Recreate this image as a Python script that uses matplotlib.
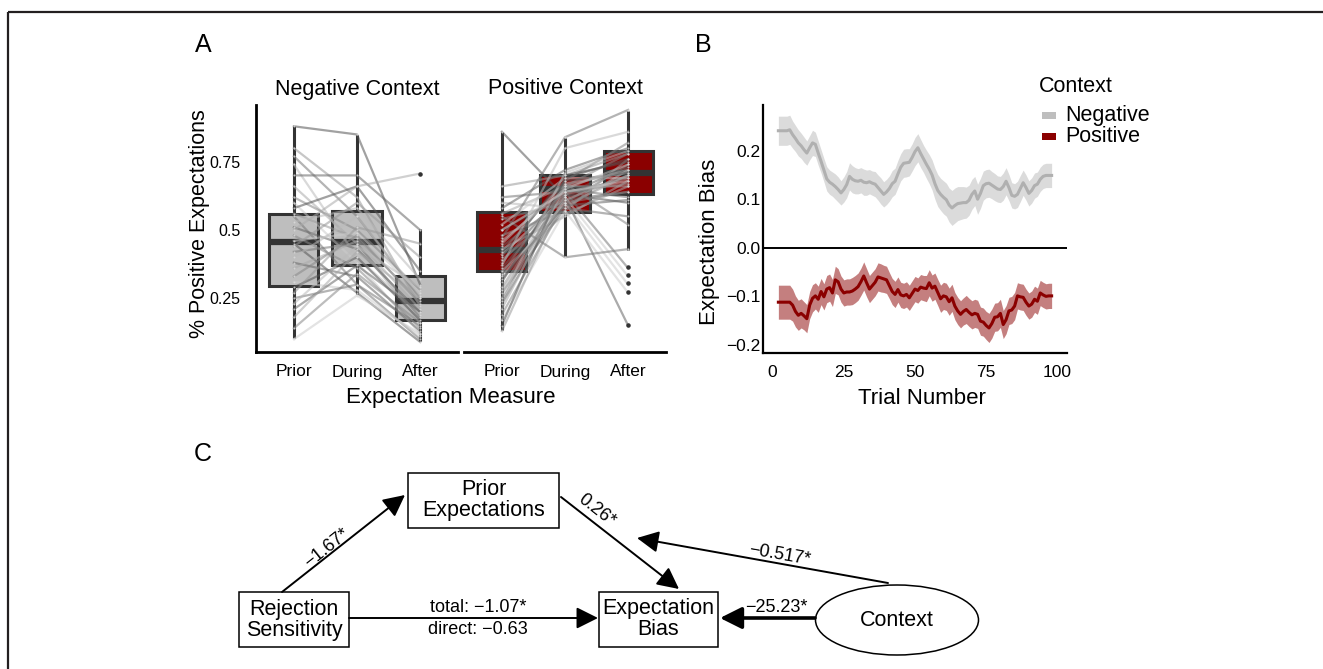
import matplotlib.pyplot as plt
from matplotlib.patches import Rectangle, Ellipse
import numpy as np

plt.rcParams['font.family'] = ['Liberation Sans', 'DejaVu Sans']

# ---- panel A data: box stats (q1, median, q3, whisker lo, whisker hi)
measures = ['Prior', 'During', 'After']
neg_q1 = [0.295, 0.370, 0.170]
neg_med = [0.455, 0.455, 0.241]
neg_q3 = [0.559, 0.569, 0.331]
neg_lo = [0.103, 0.264, 0.094]
neg_hi = [0.881, 0.847, 0.502]
neg_out = [[], [], [0.707]]
pos_q1 = [0.351, 0.567, 0.632]
pos_med = [0.427, 0.650, 0.710]
pos_q3 = [0.567, 0.700, 0.790]
pos_lo = [0.134, 0.405, 0.427]
pos_hi = [0.858, 0.838, 0.937]
pos_out = [[], [], [0.363, 0.335, 0.305, 0.274, 0.152]]

# individual participants (prior, during, after)
neg_prior = [0.88, 0.80, 0.77, 0.74, 0.70, 0.66, 0.62, 0.60, 0.58, 0.56, 0.55, 0.53, 0.51, 0.50, 0.48, 0.46,
             0.45, 0.44, 0.42, 0.40, 0.38, 0.36, 0.33, 0.31, 0.29, 0.27, 0.25, 0.23, 0.21, 0.18, 0.14, 0.10]
neg_during = [0.85, 0.62, 0.55, 0.40, 0.70, 0.45, 0.50, 0.38, 0.66, 0.47, 0.30, 0.58, 0.43, 0.66, 0.36, 0.49,
              0.27, 0.60, 0.45, 0.55, 0.33, 0.46, 0.48, 0.28, 0.40, 0.51, 0.30, 0.44, 0.37, 0.42, 0.34, 0.26]
neg_after = [0.30, 0.22, 0.25, 0.19, 0.50, 0.16, 0.28, 0.12, 0.35, 0.24, 0.10, 0.32, 0.20, 0.707, 0.14, 0.27,
             0.09, 0.40, 0.18, 0.26, 0.13, 0.21, 0.23, 0.11, 0.17, 0.45, 0.15, 0.29, 0.20, 0.25, 0.16, 0.12]
pos_prior = [0.86, 0.66, 0.62, 0.60, 0.58, 0.56, 0.54, 0.52, 0.50, 0.48, 0.47, 0.45, 0.44, 0.43, 0.42, 0.41,
             0.40, 0.39, 0.38, 0.37, 0.36, 0.35, 0.34, 0.33, 0.31, 0.29, 0.27, 0.25, 0.23, 0.21, 0.19, 0.17,
             0.15, 0.13, 0.55, 0.46, 0.32, 0.28, 0.24, 0.50]
pos_during = [0.62, 0.70, 0.64, 0.58, 0.72, 0.66, 0.60, 0.69, 0.63, 0.57, 0.84, 0.67, 0.61, 0.55, 0.68, 0.62,
              0.70, 0.59, 0.65, 0.80, 0.63, 0.56, 0.66, 0.60, 0.68, 0.64, 0.58, 0.71, 0.62, 0.66, 0.60, 0.57,
              0.69, 0.63, 0.40, 0.65, 0.59, 0.61, 0.67, 0.64]
pos_after = [0.70, 0.78, 0.36, 0.72, 0.80, 0.66, 0.74, 0.69, 0.60, 0.76, 0.94, 0.71, 0.64, 0.68, 0.82, 0.33,
             0.75, 0.70, 0.62, 0.86, 0.73, 0.66, 0.78, 0.30, 0.71, 0.67, 0.55, 0.79, 0.15, 0.72, 0.64, 0.27,
             0.76, 0.69, 0.43, 0.74, 0.61, 0.70, 0.52, 0.68]

# ---- panel B data: running expectation bias by trial
trials = list(range(2, 99))
neg_bias = [0.241, 0.241, 0.241, 0.241, 0.243,
            0.233, 0.225, 0.216, 0.210, 0.202, 0.195, 0.206, 0.216, 0.213, 0.195,
            0.178, 0.160, 0.142, 0.135, 0.131, 0.126, 0.120, 0.113, 0.120, 0.130,
            0.147, 0.141, 0.138, 0.137, 0.139, 0.135, 0.134, 0.136, 0.133, 0.131,
            0.124, 0.117, 0.110, 0.115, 0.122, 0.132, 0.137, 0.152, 0.166, 0.174,
            0.175, 0.176, 0.186, 0.198, 0.206, 0.194, 0.183, 0.172, 0.162, 0.150,
            0.132, 0.118, 0.110, 0.104, 0.099, 0.088, 0.082, 0.087, 0.091, 0.092,
            0.093, 0.093, 0.098, 0.110, 0.117, 0.100, 0.112, 0.128, 0.132, 0.133,
            0.129, 0.125, 0.121, 0.120, 0.126, 0.137, 0.124, 0.108, 0.106, 0.110,
            0.122, 0.134, 0.124, 0.112, 0.118, 0.128, 0.131, 0.141, 0.147, 0.149,
            0.149, 0.149]
neg_se = [0.030, 0.030, 0.030, 0.030, 0.030,
          0.028, 0.027, 0.027, 0.026, 0.026, 0.025,
          0.025, 0.026, 0.025, 0.025, 0.024, 0.024, 0.025, 0.025,
          0.025, 0.026, 0.026, 0.025, 0.026, 0.027, 0.028, 0.028, 0.027, 0.026,
          0.026, 0.027, 0.026, 0.025, 0.025, 0.026, 0.026, 0.027, 0.026, 0.026,
          0.026, 0.027, 0.027, 0.028, 0.028, 0.029, 0.029, 0.028, 0.028, 0.029,
          0.029, 0.029, 0.028, 0.029, 0.030, 0.031, 0.032, 0.033, 0.033, 0.034,
          0.034, 0.035, 0.036, 0.036, 0.035, 0.034, 0.033, 0.032, 0.031, 0.031,
          0.030, 0.031, 0.031, 0.030, 0.029, 0.029, 0.028, 0.028, 0.027, 0.027,
          0.028, 0.028, 0.027, 0.026, 0.026, 0.027, 0.027, 0.026, 0.026, 0.026,
          0.026, 0.026, 0.025, 0.025, 0.025, 0.025, 0.025, 0.025]
pos_bias = [-0.112, -0.112, -0.112, -0.112, -0.112,
            -0.118, -0.131, -0.139, -0.135, -0.140, -0.146, -0.118, -0.104, -0.099, -0.106,
            -0.090, -0.101, -0.085, -0.082, -0.093, -0.066, -0.070, -0.085, -0.093, -0.091,
            -0.091, -0.089, -0.085, -0.080, -0.070, -0.058, -0.072, -0.085, -0.078, -0.071,
            -0.060, -0.062, -0.064, -0.066, -0.078, -0.090, -0.096, -0.086, -0.097, -0.099,
            -0.096, -0.103, -0.094, -0.085, -0.088, -0.081, -0.083, -0.084, -0.072, -0.083,
            -0.079, -0.092, -0.105, -0.099, -0.101, -0.111, -0.103, -0.120, -0.130, -0.137,
            -0.131, -0.127, -0.133, -0.138, -0.135, -0.137, -0.151, -0.153, -0.160, -0.165,
            -0.156, -0.143, -0.142, -0.135, -0.158, -0.148, -0.130, -0.128, -0.120, -0.099,
            -0.101, -0.102, -0.112, -0.120, -0.116, -0.106, -0.110, -0.093, -0.097, -0.100,
            -0.099, -0.099]
pos_se = [0.035, 0.035, 0.035, 0.035, 0.035,
          0.033, 0.032, 0.031, 0.030, 0.029, 0.029,
          0.028, 0.028, 0.027, 0.027, 0.027, 0.027, 0.028, 0.028,
          0.028, 0.028, 0.027, 0.027, 0.027, 0.027, 0.027, 0.028, 0.028, 0.028,
          0.028, 0.029, 0.029, 0.028, 0.028, 0.028, 0.029, 0.029, 0.028, 0.028,
          0.027, 0.027, 0.027, 0.026, 0.026, 0.026, 0.026, 0.026, 0.026, 0.026,
          0.026, 0.026, 0.026, 0.027, 0.027, 0.027, 0.027, 0.027, 0.028, 0.028,
          0.028, 0.028, 0.028, 0.028, 0.028, 0.028, 0.028, 0.029, 0.029, 0.029,
          0.029, 0.029, 0.029, 0.029, 0.029, 0.030, 0.030, 0.029, 0.029, 0.029,
          0.029, 0.029, 0.028, 0.028, 0.028, 0.027, 0.027, 0.027, 0.027, 0.027,
          0.027, 0.027, 0.027, 0.026, 0.026, 0.026, 0.026, 0.026]

W, H = 1323, 669
fig = plt.figure(figsize=(W / 100, H / 100), dpi=100)


def px_axes(x0, y0, x1, y1):
    # axes placed in pixel coordinates (origin top-left)
    return fig.add_axes([x0 / W, 1 - y1 / H, (x1 - x0) / W, (y1 - y0) / H])


# canvas in pixel coordinates for labels and the path diagram
cv = fig.add_axes([0, 0, 1, 1])
cv.set_xlim(0, W)
cv.set_ylim(H, 0)
cv.axis('off')
cv.plot([8, W], [12, 12], color='#231f20', lw=1.6, solid_capstyle='butt')
cv.plot([8, 8], [12, H], color='#231f20', lw=1.6, solid_capstyle='butt')

dark = '#333333'
shades = ['#555555', '#999999', '#777777', '#bbbbbb', '#666666', '#aaaaaa', '#888888', '#cccccc']


def facet(ax, q1, med, q3, lo, hi, outs, fill, pri, dur, aft):
    bw = 0.78
    for i in range(3):
        x = i + 1
        ax.plot([x, x], [lo[i], hi[i]], color=dark, lw=2.2, zorder=1, solid_capstyle='butt')
        ax.add_patch(Rectangle((x - bw / 2, q1[i]), bw, q3[i] - q1[i], fc=fill, ec=dark, lw=2.2, zorder=2))
        ax.plot([x - bw / 2, x + bw / 2], [med[i], med[i]], color=dark, lw=4.5, zorder=3, solid_capstyle='butt')
        if outs[i]:
            ax.scatter([x] * len(outs[i]), outs[i], s=5, color=dark, zorder=6)
    for k in range(len(pri)):
        ax.plot([1, 2, 3], [pri[k], dur[k], aft[k]], color=shades[k % len(shades)],
                alpha=0.55, lw=1.6, zorder=4)
    for i, vals in enumerate([pri, dur, aft]):
        ax.scatter([i + 1] * len(vals), vals, s=2, color='#dddddd', alpha=0.8, zorder=5, linewidths=0)
    ax.set_xlim(0.4, 3.6)
    ax.set_ylim(0.053, 0.958)
    ax.set_xticks([1, 2, 3])
    ax.set_xticklabels(measures, fontsize=12.5)
    ax.tick_params(length=0, pad=9)
    ax.patch.set_alpha(0)
    for s in ['top', 'right']:
        ax.spines[s].set_visible(False)
    ax.spines['bottom'].set_linewidth(2)


axn = px_axes(256, 105, 458, 352)
facet(axn, neg_q1, neg_med, neg_q3, neg_lo, neg_hi, neg_out, '#bebebe', neg_prior, neg_during, neg_after)
axn.spines['left'].set_linewidth(2)
axn.set_yticks([0.25, 0.5, 0.75])
axn.set_yticklabels(['0.25', '0.5', '0.75'], fontsize=11.5)
axn.tick_params(axis='y', pad=11)

axp = px_axes(464, 105, 666, 352)
facet(axp, pos_q1, pos_med, pos_q3, pos_lo, pos_hi, pos_out, '#8b0000', pos_prior, pos_during, pos_after)
axp.spines['left'].set_visible(False)
axp.set_yticks([])

cv.text(203, 45, 'A', fontsize=18, ha='center', va='center')
cv.text(357, 89, 'Negative Context', fontsize=15.5, ha='center', va='center')
cv.text(565, 89, 'Positive Context', fontsize=15.5, ha='center', va='center')
cv.text(200, 224, '% Positive Expectations', fontsize=15.5, rotation=90, ha='center', va='center')
cv.text(451, 398, 'Expectation Measure', fontsize=16, ha='center', va='center')

# ---- panel B
axb = px_axes(763, 105, 1067, 352.7)
t = np.array(trials)
nb, ns = np.array(neg_bias), np.array(neg_se)
pb, ps = np.array(pos_bias), np.array(pos_se)
axb.fill_between(t, nb - ns, nb + ns, color='#bebebe', alpha=0.55, lw=0)
axb.plot(t, nb, color='#b0b0b0', lw=2.2)
axb.fill_between(t, pb - ps, pb + ps, color='#8b0000', alpha=0.5, lw=0)
axb.plot(t, pb, color='#8b0000', lw=2.2)
axb.axhline(0, color='black', lw=1.4)
axb.set_xlim(-3.4, 103.4)
axb.set_ylim(-0.216, 0.294)
axb.set_xticks([0, 25, 50, 75, 100])
axb.set_xticklabels(['0', '25', '50', '75', '100'], fontsize=12.5)
axb.set_yticks([-0.2, -0.1, 0.0, 0.1, 0.2])
axb.set_yticklabels(['\u22120.2', '\u22120.1', '0.0', '0.1', '0.2'], fontsize=12.5)
axb.tick_params(length=0)
axb.tick_params(axis='x', pad=9)
axb.tick_params(axis='y', pad=2)
axb.patch.set_alpha(0)
for s in ['top', 'right']:
    axb.spines[s].set_visible(False)
axb.spines['left'].set_linewidth(1.6)
axb.spines['bottom'].set_linewidth(1.6)

cv.text(703, 45, 'B', fontsize=18, ha='center', va='center')
cv.text(710, 242, 'Expectation Bias', fontsize=16, rotation=90, ha='center', va='center')
cv.text(922, 398, 'Trial Number', fontsize=16, ha='center', va='center')
cv.text(1039, 87, 'Context', fontsize=15.5, ha='left', va='center')
cv.add_patch(Rectangle((1042, 112), 14, 7, fc='#bebebe', ec='none'))
cv.add_patch(Rectangle((1042, 132.5), 14, 7, fc='#8b0000', ec='none'))
cv.text(1065, 115, 'Negative', fontsize=15.5, ha='left', va='center')
cv.text(1065, 136, 'Positive', fontsize=15.5, ha='left', va='center')

# ---- panel C: path diagram
cv.text(203, 454, 'C', fontsize=18, ha='center', va='center')
for (x0, y0, x1, y1) in [(408, 473, 559, 528), (239, 592, 349, 647), (599, 592, 718, 647)]:
    cv.add_patch(Rectangle((x0, y0), x1 - x0, y1 - y0, fc='white', ec='black', lw=1.1))
cv.add_patch(Ellipse((897, 620), 163, 70, fc='white', ec='black', lw=1.1))
cv.text(483.5, 500, 'Prior\nExpectations', fontsize=15.5, ha='center', va='center', linespacing=1.05)
cv.text(294, 620, 'Rejection\nSensitivity', fontsize=15.5, ha='center', va='center', linespacing=1.05)
cv.text(658.5, 619, 'Expectation\nBias', fontsize=15.5, ha='center', va='center', linespacing=1.05)
cv.text(897, 620, 'Context', fontsize=15.5, ha='center', va='center')

arrows = [((282, 592), (405, 495), 1.4), ((561, 497), (679, 589), 1.4), ((888, 583), (637, 538), 1.4),
          ((815, 618), (720, 618), 2.6), ((349, 618), (598, 618), 1.4)]
for (p0, p1, lw) in arrows:
    cv.annotate('', xy=p1, xytext=p0,
                arrowprops=dict(arrowstyle='-|>,head_length=0.6,head_width=0.3', mutation_scale=22, lw=lw,
                                color='black', shrinkA=0, shrinkB=0))

cv.text(327, 548, '\u22121.67*', fontsize=13, rotation=38.5, ha='center', va='center')
cv.text(597, 510, '0.26*', fontsize=13, rotation=-38, ha='center', va='center')
cv.text(780, 555, '\u22120.517*', fontsize=13, rotation=-10, ha='center', va='center')
cv.text(776, 607, '\u221225.23*', fontsize=13, ha='center', va='center')
cv.text(478, 608, 'total: \u22121.07*', fontsize=13, ha='center', va='center')
cv.text(478, 630, 'direct: \u22120.63', fontsize=13, ha='center', va='center')

fig.savefig('out.png', dpi=100)
